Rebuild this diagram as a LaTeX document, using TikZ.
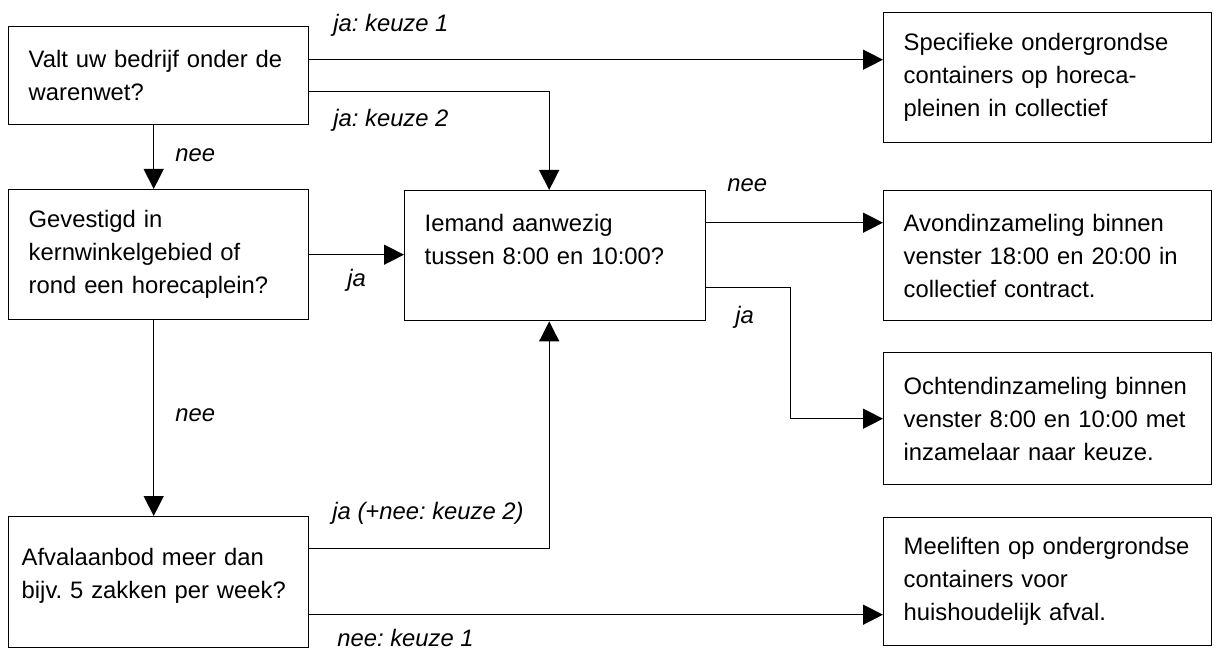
\documentclass[tikz,border=0pt]{standalone}
\usepackage{fontspec}
\setmainfont{Liberation Sans}
\usepackage{tikz}
\usetikzlibrary{positioning,calc,arrows.meta}
\frenchspacing

\begin{document}
\begin{tikzpicture}[x=0.5pt,y=-0.5pt,
    every node/.style={font=\fontsize{11.9}{16.5}\selectfont},
    vraag/.style={draw, line width=0.7pt, rectangle, anchor=north west, align=left, inner xsep=10pt, inner ysep=0pt},
    links/.style={vraag, text width=130pt, minimum width=150pt},
    rechts/.style={vraag, text width=144pt, minimum width=164pt, minimum height=65pt},
    keuze/.style={font=\fontsize{11.9}{16.5}\selectfont\itshape, anchor=west, inner sep=0pt},
    pijl/.style={line width=0.7pt, -{Triangle[length=10pt,width=10pt]}}
]
\useasboundingbox (0,0) rectangle (1214,651);

% vragen
\node[links, minimum height=49pt] (warenwet) at (8,26) {Valt uw bedrijf onder de\\warenwet?};
\node[links, minimum height=65pt] (kern) at (8,189) {Gevestigd in\\kernwinkelgebied of\\rond een horecaplein?};
\node[links, minimum height=65.5pt, inner xsep=6.5pt, text width=137pt] (afval) at (8,516) {Afvalaanbod meer dan\\bijv. 5 zakken per week?\rule[-9pt]{0pt}{0pt}};
\node[links, minimum height=65pt, minimum width=150.5pt, text width=130.5pt] (aanwezig) at (404,190) {Iemand aanwezig\\tussen 8:00 en 10:00?\\\mbox{}};

% uitkomsten
\node[rechts] (horeca) at (883,12) {Specifieke ondergrondse\\containers op horeca-\\pleinen in collectief};
\node[rechts] (avond) at (883,190) {Avondinzameling binnen\\venster 18:00 en 20:00 in\\collectief contract.};
\node[rechts, minimum height=66pt] (ochtend) at (883,352) {Ochtendinzameling binnen\\venster 8:00 en 10:00 met\\inzamelaar naar keuze.};
\node[rechts, minimum height=64pt] (meeliften) at (883,517) {Meeliften op ondergrondse\\containers voor\\huishoudelijk afval.};

% pijlen
\coordinate (w1) at ([yshift=8pt]warenwet.east);
\coordinate (w2) at ([yshift=-8pt]warenwet.east);
\draw[pijl] (w1) -- (w1 -| horeca.west);
\draw[pijl] (w2) -| ([xshift=-3pt]aanwezig.north);
\draw[pijl] ([xshift=-2.5pt]warenwet.south) -- ([xshift=-2.5pt]kern.north);
\draw[pijl] (kern.east) -- (kern.east -| aanwezig.west);
\draw[pijl] ([xshift=-2.5pt]kern.south) -- ([xshift=-2.5pt]afval.north);

\coordinate (a1) at ([yshift=16.5pt]aanwezig.east);
\coordinate (a2) at ([yshift=-16pt]aanwezig.east);
\coordinate (knik) at ($(aanwezig.east)+(84,0)$);
\draw[pijl] (a1) -- (a1 -| avond.west);
\draw[pijl] (a2) -| (knik |- ochtend.west) -- (ochtend.west);

\coordinate (c1) at ([yshift=16.75pt]afval.east);
\coordinate (c2) at ([yshift=-16.25pt]afval.east);
\draw[pijl] (c1) -| ([xshift=-3pt]aanwezig.south);
\draw[pijl] (c2) -- (c2 -| meeliften.west);

% labels
\node[keuze] (l1) at (333,25) {ja: keuze 1};
\node[keuze] (l2) at (333,120) {ja: keuze 2};
\node[keuze] (l3) at (175,155) {nee};
\node[keuze] (l4) at (347,280) {ja};
\node[keuze] (l5) at (175,415) {nee};
\node[keuze] (l6) at (727,185) {nee};
\node[keuze] (l7) at (735,317) {ja};
\node[keuze] (l8) at (332,513) {ja (+nee: keuze 2)};
\node[keuze] (l9) at (337,638) {nee: keuze 1};
\end{tikzpicture}
\end{document}
